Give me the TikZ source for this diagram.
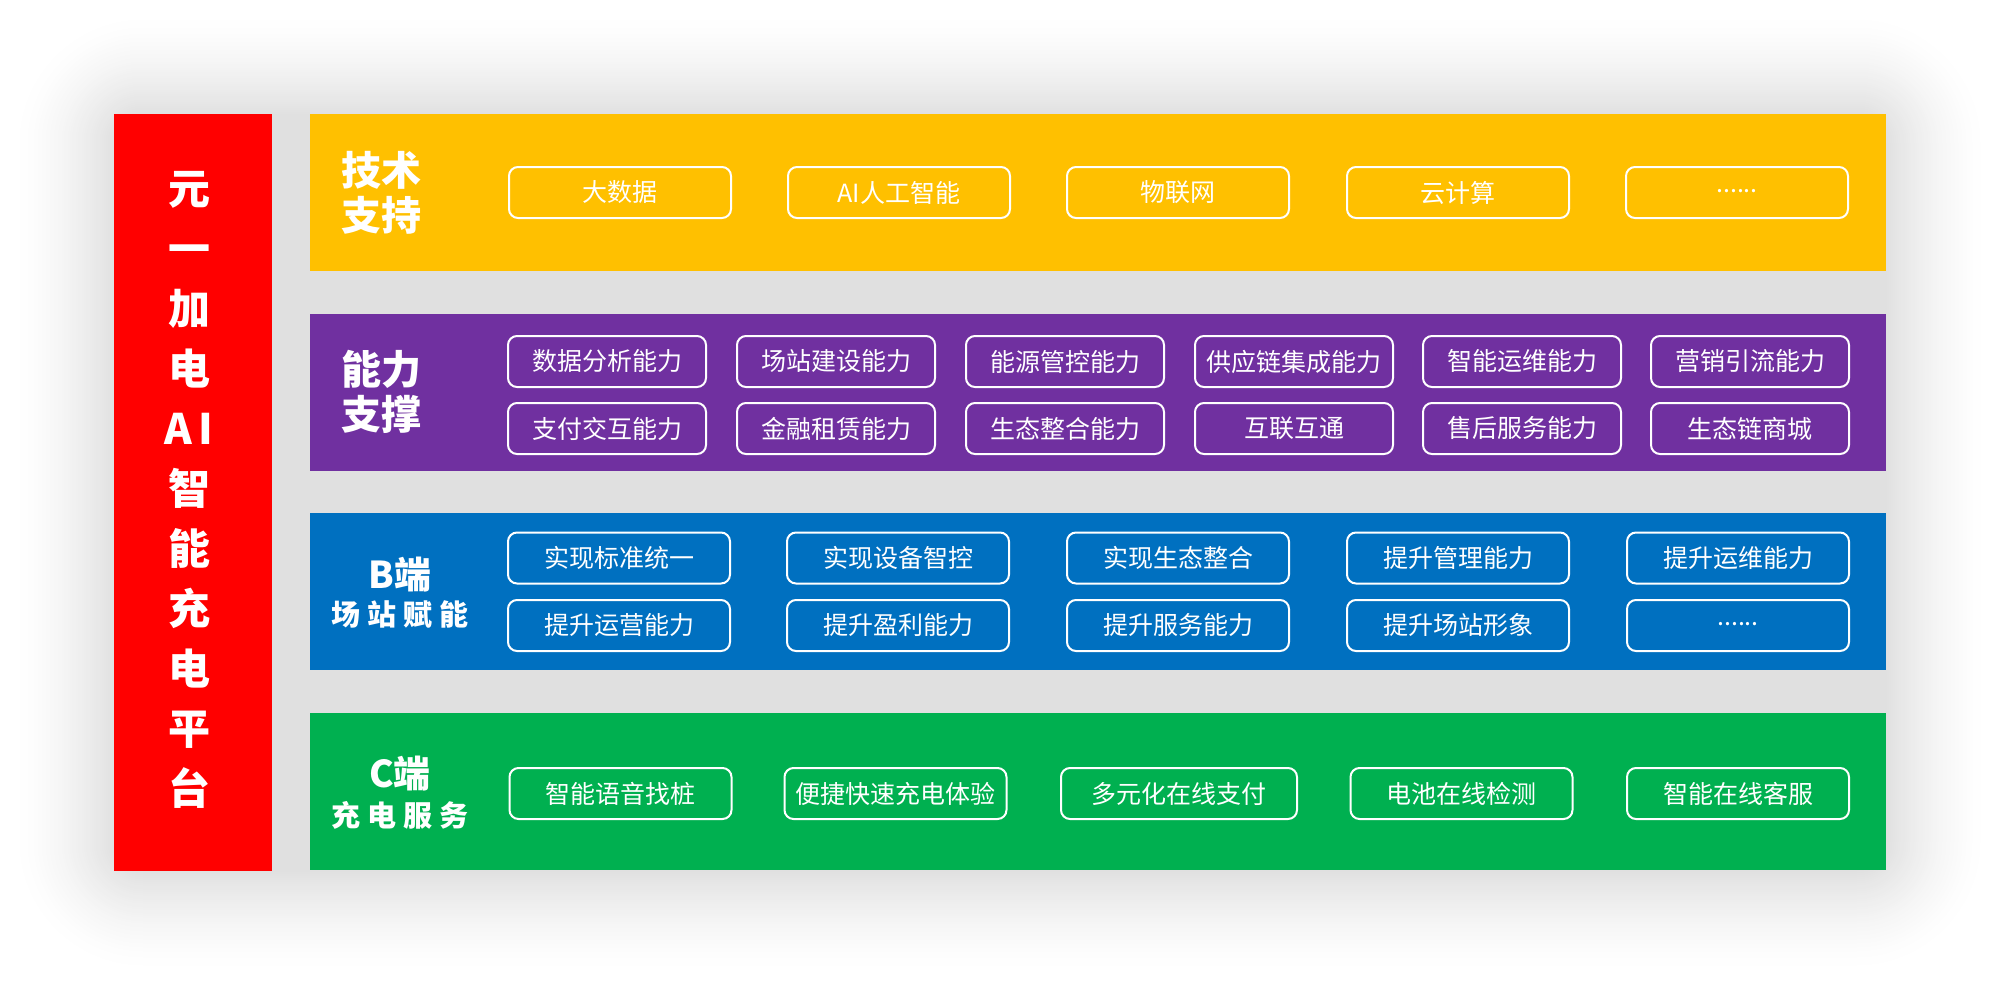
\documentclass[tikz,border=0pt]{standalone}
\usepackage{fontspec}
\setmainfont{Noto Sans CJK SC}
\definecolor{cred}{HTML}{FF0000}
\definecolor{cyellow}{HTML}{FFC000}
\definecolor{cpurple}{HTML}{7030A0}
\definecolor{cblue}{HTML}{0070C0}
\definecolor{cgreen}{HTML}{00B050}
\tikzset{
  band/.style={inner sep=0pt, minimum width=1576pt, minimum height=157pt, draw=none},
  itembox/.style={draw=white, line width=2pt, rounded corners=9pt, minimum width=222pt,
    minimum height=51pt, inner sep=0pt, text=white, font=\fontsize{25}{30}\selectfont},
  pbox/.style={itembox, minimum width=198pt},
  bandlbl/.style={inner sep=0pt, text=white, font=\bfseries\fontsize{40}{45}\selectfont, align=left},
  sidebig/.style={inner sep=0pt, text=white, font=\bfseries\fontsize{37}{40}\selectfont},
  sidesmall/.style={inner sep=0pt, text=white, font=\bfseries\fontsize{29}{32}\selectfont},
}
\begin{document}
\begin{tikzpicture}[x=1pt,y=-1pt]
\useasboundingbox (0,0) rectangle (2000,985);
\fill[white] (0,0) rectangle (2000,985);
% soft shadow
\foreach \e in {100,98,...,0} {
  \pgfmathsetmacro\g{12*(1-\e/100)^1.5}
  \pgfmathsetmacro\r{\e+30}
  \fill[black!\g, rounded corners=\r pt] (114-\e,114-\e) rectangle (1886+\e,871+\e);
}
% title bar
\node[inner sep=0pt, minimum width=158pt, minimum height=757pt, fill=cred] (titlebar) at (193,492.5) {};
\node[inner sep=0pt, text=white, align=center, font=\bfseries\fontsize{42}{60}\selectfont] (title) at (189,490)
  {元\\一\\加\\电\\A\hspace{6pt}I\\智\\能\\充\\电\\平\\台};
% bands
\node[band, fill=cyellow] (tech) at (1098,192.5) {};
\node[band, fill=cpurple] (abil) at (1098,392.5) {};
\node[band, fill=cblue] (bside) at (1098,591.5) {};
\node[band, fill=cgreen] (cside) at (1098,791.5) {};
% band labels
\node[bandlbl, anchor=west] (techlbl) at (341,192.5) {技术\\支持};
\node[bandlbl, anchor=west] (abillbl) at (341,392) {能力\\支撑};
\node[sidebig] (blbl1) at (400,574.5) {B端};
\node[sidesmall] (blbl2) at (400,614.5) {场\hspace{7pt}站\hspace{7pt}赋\hspace{7pt}能};
\node[sidebig] (clbl1) at (400,773.5) {C端};
\node[sidesmall] (clbl2) at (400,815) {充\hspace{7pt}电\hspace{7pt}服\hspace{7pt}务};
% tech boxes
\node[itembox] (t1) at (620,192.5) {大数据};
\node[itembox] (t2) at (899,192.5) {AI人工智能};
\node[itembox] (t3) at (1178,192.5) {物联网};
\node[itembox] (t4) at (1458,192.5) {云计算};
\node[itembox] (t5) at (1737,192.5) {\smash{......}};
% ability boxes
\node[pbox] (a1) at (607,361.5) {数据分析能力};
\node[pbox] (a2) at (836,361.5) {场站建设能力};
\node[pbox] (a3) at (1065,361.5) {能源管控能力};
\node[pbox] (a4) at (1294,361.5) {供应链集成能力};
\node[pbox] (a5) at (1522,361.5) {智能运维能力};
\node[pbox] (a6) at (1750,361.5) {营销引流能力};
\node[pbox] (a7) at (607,428.5) {支付交互能力};
\node[pbox] (a8) at (836,428.5) {金融租赁能力};
\node[pbox] (a9) at (1065,428.5) {生态整合能力};
\node[pbox] (a10) at (1294,428.5) {互联互通};
\node[pbox] (a11) at (1522,428.5) {售后服务能力};
\node[pbox] (a12) at (1750,428.5) {生态链商城};
% B side boxes
\node[itembox] (b1) at (619,558) {实现标准统一};
\node[itembox] (b2) at (898,558) {实现设备智控};
\node[itembox] (b3) at (1178,558) {实现生态整合};
\node[itembox] (b4) at (1458,558) {提升管理能力};
\node[itembox] (b5) at (1738,558) {提升运维能力};
\node[itembox] (b6) at (619,625.5) {提升运营能力};
\node[itembox] (b7) at (898,625.5) {提升盈利能力};
\node[itembox] (b8) at (1178,625.5) {提升服务能力};
\node[itembox] (b9) at (1458,625.5) {提升场站形象};
\node[itembox] (b10) at (1738,625.5) {\smash{......}};
% C side boxes
\node[itembox] (c1) at (620.5,793.5) {智能语音找桩};
\node[itembox] (c2) at (895.5,793.5) {便捷快速充电体验};
\node[itembox, minimum width=236pt] (c3) at (1179,793.5) {多元化在线支付};
\node[itembox] (c4) at (1461.5,793.5) {电池在线检测};
\node[itembox] (c5) at (1738,793.5) {智能在线客服};
\end{tikzpicture}
\end{document}
